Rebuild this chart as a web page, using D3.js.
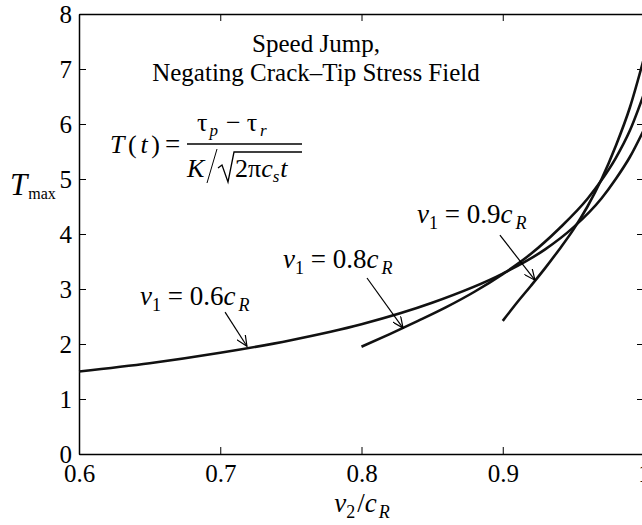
<!DOCTYPE html>
<html>
<head>
<meta charset="utf-8">
<script src="https://cdn.jsdelivr.net/npm/d3@7"></script>
<style>
body { margin: 0; background: #fff; }
svg text { font-family: 'Liberation Serif', 'DejaVu Serif', 'Times New Roman', Times, serif; fill: #000; }
</style>
</head>
<body>
<div id="chart"></div>
<script>
// tick labels
var xTicks = [0.6, 0.7, 0.8, 0.9, 1.0];
var yTicks = [0, 1, 2, 3, 4, 5, 6, 7, 8];

// v1 = 0.6 cR
var v2_06 = [0.60, 0.65, 0.70, 0.75, 0.80, 0.85, 0.90, 0.93, 0.95, 0.97, 0.98, 0.99, 1.00];
var T_06  = [1.50, 1.65, 1.84, 2.07, 2.36, 2.75, 3.28, 3.72, 4.12, 4.65, 5.00, 5.40, 5.90];
// v1 = 0.8 cR
var v2_08 = [0.80, 0.82, 0.84, 0.86, 0.88, 0.90, 0.92, 0.94, 0.96, 0.97, 0.98, 0.99, 1.00];
var T_08  = [1.95, 2.18, 2.42, 2.67, 2.95, 3.27, 3.64, 4.10, 4.64, 4.98, 5.38, 5.88, 6.55];
// v1 = 0.9 cR
var v2_09 = [0.90, 0.91, 0.92, 0.93, 0.94, 0.95, 0.96, 0.97, 0.98, 0.99, 1.00];
var T_09  = [2.42, 2.75, 3.06, 3.38, 3.72, 4.08, 4.50, 5.00, 5.60, 6.30, 7.20];

// curve labels: text, label anchor (x,y), arrow from -> to (data units)
var labelNames = ["0.6", "0.8", "0.9"];
var labelAt    = [[0.6432, 2.71], [0.7444, 3.38], [0.8393, 4.20]];
var arrowFrom  = [[0.7034, 2.58], [0.8039, 3.20], [0.8980, 3.98]];
var arrowTo    = [[0.7189, 1.96], [0.8294, 2.29], [0.9228, 3.16]];

var serif = "'Liberation Serif', 'DejaVu Serif', 'Times New Roman', Times, serif";

var width = 642, height = 525;
var margin = {top: 14, right: -2, bottom: 71, left: 79};

var svg = d3.select('#chart')
    .append('svg')
    .attr('width', width)
    .attr('height', height)
    .attr('font-family', serif);

var x = d3.scaleLinear().domain([0.6, 1.0]).range([margin.left, width - margin.right]);
var y = d3.scaleLinear().domain([0, 8]).range([height - margin.bottom, margin.top]);

var defs = svg.append('defs');
defs.append('marker')
    .attr('id', 'head')
    .attr('viewBox', '0 0 12 10')
    .attr('refX', 11).attr('refY', 5)
    .attr('markerWidth', 12).attr('markerHeight', 10)
    .attr('markerUnits', 'userSpaceOnUse')
    .attr('orient', 'auto')
    .append('path')
    .attr('d', 'M0,0 L11,5 L0,10')
    .attr('fill', 'none')
    .attr('stroke', '#000')
    .attr('stroke-width', 1.2);

// axes, ticks inward on all four sides
var fmtX = function (d) { return d === 1 ? '1' : d3.format('.1f')(d); };

var gx = svg.append('g')
    .attr('transform', 'translate(0,' + y(0) + ')')
    .call(d3.axisBottom(x).tickValues(xTicks).tickFormat(fmtX).tickSizeInner(-7).tickSizeOuter(0).tickPadding(10));
var gy = svg.append('g')
    .attr('transform', 'translate(' + x(0.6) + ',0)')
    .call(d3.axisLeft(y).tickValues(yTicks).tickFormat(d3.format('d')).tickSizeInner(-7).tickSizeOuter(0).tickPadding(7));
var gt = svg.append('g')
    .attr('transform', 'translate(0,' + y(8) + ')')
    .call(d3.axisTop(x).tickValues(xTicks).tickFormat('').tickSizeInner(-7).tickSizeOuter(0));
var gr = svg.append('g')
    .attr('transform', 'translate(' + x(1.0) + ',0)')
    .call(d3.axisRight(y).tickValues(yTicks).tickFormat('').tickSizeInner(-7).tickSizeOuter(0));

[gx, gy, gt, gr].forEach(function (g) {
    g.attr('font-family', serif).attr('font-size', 25);
    g.select('.domain').attr('stroke', '#000').attr('stroke-width', 1.5);
    g.selectAll('.tick line').attr('stroke', '#000').attr('stroke-width', 1);
    g.selectAll('.tick text').attr('fill', '#000');
});

// curves
var line = d3.line()
    .x(function (d) { return x(d[0]); })
    .y(function (d) { return y(d[1]); })
    .curve(d3.curveMonotoneX);

var series = [d3.zip(v2_06, T_06), d3.zip(v2_08, T_08), d3.zip(v2_09, T_09)];
svg.selectAll('path.curve')
    .data(series)
    .enter()
    .append('path')
    .attr('class', 'curve')
    .attr('d', line)
    .attr('fill', 'none')
    .attr('stroke', '#111')
    .attr('stroke-width', 2.6);

// arrows
svg.selectAll('line.arrow')
    .data(labelNames)
    .enter()
    .append('line')
    .attr('class', 'arrow')
    .attr('x1', function (d, i) { return x(arrowFrom[i][0]); })
    .attr('y1', function (d, i) { return y(arrowFrom[i][1]); })
    .attr('x2', function (d, i) { return x(arrowTo[i][0]); })
    .attr('y2', function (d, i) { return y(arrowTo[i][1]); })
    .attr('stroke', '#000')
    .attr('stroke-width', 1.2)
    .attr('marker-end', 'url(#head)');

// curve labels  v1 = 0.xcR
var lab = svg.selectAll('text.lab')
    .data(labelNames)
    .enter()
    .append('text')
    .attr('class', 'lab')
    .attr('x', function (d, i) { return x(labelAt[i][0]); })
    .attr('y', function (d, i) { return y(labelAt[i][1]); })
    .style('font-size', '27px');
lab.append('tspan').style('font-style', 'italic').text('v');
lab.append('tspan').style('font-size', '18px').attr('dy', 6).text('1');
lab.append('tspan').attr('dy', -6).text(function (d) { return ' = ' + d; });
lab.append('tspan').style('font-style', 'italic').text('c');
lab.append('tspan').style('font-style', 'italic').style('font-size', '18px').attr('dx', 3).attr('dy', 6).text('R');

// title
svg.append('text').attr('x', 316).attr('y', 52).attr('text-anchor', 'middle')
    .style('font-size', '25px').text('Speed Jump,');
svg.append('text').attr('x', 316).attr('y', 81).attr('text-anchor', 'middle')
    .style('font-size', '25px').text('Negating Crack\u2013Tip Stress Field');

// formula T(t) = (tau_p - tau_r) / (K / sqrt(2 pi c_s t))
var f = svg.append('g').style('font-size', '26px');
var lhs = f.append('text').attr('x', 110).attr('y', 153)
    .attr('textLength', 50).attr('lengthAdjust', 'spacing');
lhs.append('tspan').style('font-style', 'italic').text('T');
lhs.append('tspan').text('(');
lhs.append('tspan').style('font-style', 'italic').text('t');
lhs.append('tspan').text(')');
f.append('text').attr('x', 165).attr('y', 153).style('font-size', '27px').text('=');
var num = f.append('text').attr('x', 197).attr('y', 131);
num.append('tspan').text('\u03c4');
num.append('tspan').style('font-style', 'italic').style('font-size', '17px').attr('dy', 5).attr('dx', 2).text('p');
num.append('tspan').attr('dy', -5).attr('dx', 8).text('\u2212');
num.append('tspan').attr('dx', 6).text('\u03c4');
num.append('tspan').style('font-style', 'italic').style('font-size', '17px').attr('dy', 5).attr('dx', 3).text('r');
f.append('line').attr('x1', 187).attr('x2', 302).attr('y1', 144).attr('y2', 144)
    .attr('stroke', '#000').attr('stroke-width', 1.3);
f.append('text').attr('x', 187).attr('y', 177).style('font-style', 'italic').text('K');
f.append('line').attr('x1', 207).attr('y1', 183).attr('x2', 217).attr('y2', 149)
    .attr('stroke', '#000').attr('stroke-width', 1);
f.append('path').attr('d', 'M218,168 L222,165 L228,182 L234,152 L302,152')
    .attr('fill', 'none').attr('stroke', '#000').attr('stroke-width', 1.3);
var den = f.append('text').attr('x', 235).attr('y', 177);
den.append('tspan').text('2\u03c0');
den.append('tspan').style('font-style', 'italic').text('c');
den.append('tspan').style('font-style', 'italic').style('font-size', '17px').attr('dy', 5).text('s');
den.append('tspan').style('font-style', 'italic').attr('dy', -5).attr('dx', 1).text('t');

// axis titles
var yl = svg.append('text').attr('x', 10).attr('y', 195);
yl.append('tspan').style('font-style', 'italic').style('font-size', '31px').text('T');
yl.append('tspan').style('font-size', '16px').attr('dx', 1).attr('dy', 4).text('max');

var xl = svg.append('text').attr('x', 362).attr('y', 512).attr('text-anchor', 'middle')
    .style('font-size', '27px');
xl.append('tspan').style('font-style', 'italic').text('v');
xl.append('tspan').style('font-size', '18px').attr('dy', 6).text('2');
xl.append('tspan').attr('dy', -6).attr('dx', 2).text('/');
xl.append('tspan').style('font-style', 'italic').text('c');
xl.append('tspan').style('font-style', 'italic').style('font-size', '18px').attr('dx', 2).attr('dy', 6).text('R');
</script>
</body>
</html>
